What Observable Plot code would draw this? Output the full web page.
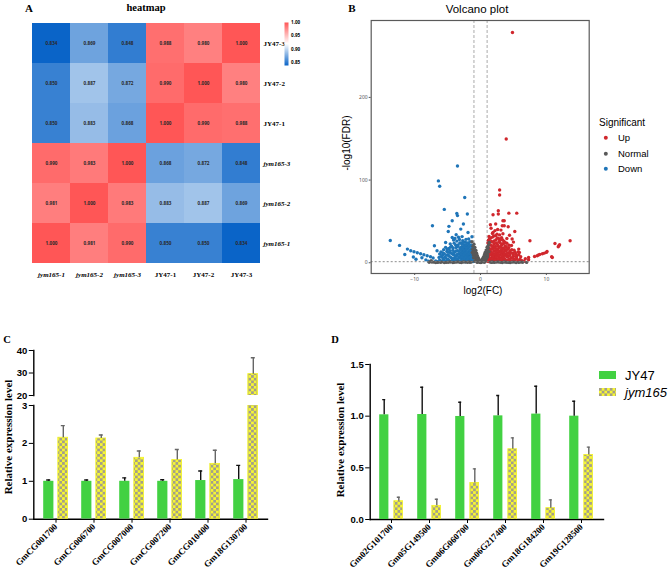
<!DOCTYPE html>
<html><head><meta charset="utf-8">
<script src="https://cdn.jsdelivr.net/npm/d3@7"></script>
<script src="https://cdn.jsdelivr.net/npm/@observablehq/plot@0.6"></script>
<style>
body{margin:0;background:#fff;}
#fig{position:relative;width:669px;height:571px;overflow:hidden;font-family:"Liberation Sans",Arial,sans-serif;color:#000;}
.pc [aria-label="y-axis tick label"]{font-family:"Liberation Sans";font-weight:bold;font-size:9.5px;}
.pc [aria-label="x-axis tick label"]{font-family:"Liberation Serif";font-weight:bold;font-size:9px;}
.pc line{stroke-width:1.4px;}
</style></head>
<body>
<svg width="0" height="0" style="position:absolute">
<defs>
<pattern id="checker" patternUnits="userSpaceOnUse" width="5.4" height="5.4">
 <rect width="5.4" height="5.4" fill="#f7f733"/>
 <rect width="2.7" height="2.7" fill="#a39f8a"/>
 <rect x="2.7" y="2.7" width="2.7" height="2.7" fill="#a39f8a"/>
</pattern>
<linearGradient id="hmgrad" x1="0" y1="0" x2="0" y2="1">
 <stop offset="0" stop-color="#ff5656"/>
 <stop offset="0.494" stop-color="#ffffff"/>
 <stop offset="1" stop-color="#0a64c8"/>
</linearGradient>
</defs></svg>
<div id="fig"></div>
<script>
// ---------- Panel A: heatmap ----------
const hmCols = ["jym165-1","jym165-2","jym165-3","JY47-1","JY47-2","JY47-3"];
const hmRows = ["JY47-3","JY47-2","JY47-1","jym165-3","jym165-2","jym165-1"];
const hmValues = [
 [0.834,0.869,0.848,0.988,0.980,1.000],
 [0.850,0.887,0.872,0.990,1.000,0.980],
 [0.850,0.883,0.868,1.000,0.990,0.988],
 [0.990,0.983,1.000,0.868,0.872,0.848],
 [0.981,1.000,0.983,0.883,0.887,0.869],
 [1.000,0.981,0.990,0.850,0.850,0.834]];
const hmLegendTicks = [0.85,0.90,0.95,1.00];

// ---------- Panel B: volcano ----------
const fcCut = [-1, 1];
const fdrCut = [1.3];
const downPts = [[-3.5,117],[-6.4,99],[-6.2,92.5],[-2.4,79],[-5.5,64.5],[-3.6,59.6],[-3.5,57],[-2.0,59],[-7.3,44.7],[-4.8,44],[-4.3,50.8],[-13.7,27],[-12.3,21],[-11.1,16.5],[-11.5,10],[-10.2,6.9],[-10.6,14.5],[-10.1,13.3],[-9.6,12.1],[-9.1,10.9],[-8.6,9.7],[-8.1,8.5],[-7.6,7.3],[-7.2,5.7],[-7.0,20.6],[-6.6,14.5],[-6.2,10.5],[-5.3,24.5],[-4.9,37.8],[-4.3,30.6],[-3.7,33.9],[-3.0,40.7],[-2.6,46.8],[-1.9,36.6],[-1.8,28.7],[-1.3,31.4],[-9.8,4.2],[-8.9,6.1],[-8.3,3.5],[-5.8,8.9],[-5.6,3.1],[-6.8,2.2],[-7.9,2.0],
[-5.9,1.8],[-5.7,5.2],[-5.5,10.8],[-5.4,7.1],[-5.2,2.6],[-5.1,13.9],[-5.0,4.4],[-4.9,9.3],[-4.8,17.2],[-4.7,1.9],[-4.6,12.4],[-4.5,6.3],[-4.4,20.1],[-4.3,3.2],[-4.2,15.0],[-4.1,9.8],[-4.0,23.7],[-3.95,5.6],[-3.9,12.9],[-3.8,2.4],[-3.7,18.4],[-3.65,8.1],[-3.6,26.2],[-3.5,14.7],[-3.45,3.9],[-3.4,21.5],[-3.3,10.6],[-3.25,6.8],[-3.2,28.1],[-3.1,16.9],[-3.05,2.1],[-3.0,12.2],[-2.95,24.0],[-2.9,8.7],[-2.85,19.3],[-2.8,4.6],[-2.75,14.1],[-2.7,26.8],[-2.65,10.3],[-2.6,1.7],[-2.55,21.9],[-2.5,6.4],[-2.45,17.6],[-2.4,12.8],[-2.35,3.3],[-2.3,24.9],[-2.25,9.2],[-2.2,15.5],[-2.15,5.1],[-2.1,20.3],[-2.05,11.4],[-2.0,2.8],[-1.95,17.9],[-1.9,7.6],[-1.85,23.2],[-1.8,13.6],[-1.75,4.0],[-1.7,19.8],[-1.65,9.9],[-1.6,2.3],[-1.55,15.7],[-1.5,6.9],[-1.45,21.4],[-1.4,11.8],[-1.35,3.6],[-1.3,17.1],[-1.25,8.3],[-1.2,13.0],[-1.15,5.4],[-1.1,19.0],[-1.05,2.0],[-3.35,30.9],[-2.8,31.6],[-4.1,27.5],[-5.3,18.6],[-6.0,13.2],[-6.3,6.5],[-4.6,22.8],[-3.9,29.4],[-2.2,28.3],[-1.6,25.6],
[-6.5,1.2],[-6.2,3.4],[-5.95,7.6],[-5.75,11.9],[-5.6,15.7],[-5.45,1.1],[-5.3,5.9],[-5.15,9.2],[-5.05,16.4],[-4.95,12.7],[-4.85,3.5],[-4.75,7.8],[-4.65,14.6],[-4.55,18.9],[-4.45,1.4],[-4.35,10.9],[-4.25,5.1],[-4.15,17.8],[-4.05,12.2],[-3.98,2.9],[-3.88,8.6],[-3.78,21.6],[-3.72,14.3],[-3.62,4.8],[-3.55,10.1],[-3.48,19.6],[-3.38,1.6],[-3.32,13.8],[-3.22,7.4],[-3.15,23.9],[-3.08,18.2],[-3.02,5.3],[-2.97,15.4],[-2.92,10.8],[-2.87,1.3],[-2.82,22.7],[-2.77,6.9],[-2.72,17.3],[-2.68,12.4],[-2.62,3.7],[-2.58,25.1],[-2.52,9.6],[-2.48,14.9],[-2.42,19.7],[-2.38,5.8],[-2.32,1.2],[-2.28,11.7],[-2.22,21.8],[-2.18,7.3],[-2.12,16.6],[-2.08,3.1],[-2.02,13.2],[-1.98,24.0],[-1.92,9.5],[-1.88,4.7],[-1.82,18.7],[-1.78,11.1],[-1.72,1.5],[-1.68,15.2],[-1.62,6.6],[-1.58,21.0],[-1.52,12.3],[-1.48,3.0],[-1.42,17.0],[-1.38,8.0],[-1.32,14.2],[-1.28,4.9],[-1.22,20.4],[-1.18,10.0],[-1.12,1.6],[-1.08,15.8],[-1.03,7.1]];
const upPts = [[4.85,278.5],[3.9,149.6],[2.9,88],[2.9,82],[1.9,58],[2.7,63],[2.7,59],[4.3,60],[5.5,60],[1.5,46],[2.3,46.8],[3.4,50.8],[3.6,50.8],[3.3,44.7],[3.6,44.7],[4.2,43.5],[5.2,37.8],[1.9,36.6],[4.8,28.7],[5.0,25],[7.5,26.6],[5.8,16.5],[5.9,12.5],[7.3,6.4],[7.3,3.6],[6.3,2.4],[8.6,8.5],[8.8,9.3],[9.0,10.1],[9.4,10.9],[9.7,11.7],[10.0,12.5],[10.1,13.7],[10.9,6.4],[11.3,23.3],[11.9,20.6],[12.0,21.8],[13.6,26.6],[11.8,19.3],[10.8,7.3],[8.2,7.6],[6.8,4.9],[5.5,8.1],[6.6,1.9],[4.4,33.2],[3.1,39.5],
[1.05,2.1],[1.1,18.6],[1.15,7.9],[1.2,27.3],[1.25,12.5],[1.3,3.8],[1.35,22.1],[1.4,9.6],[1.45,16.0],[1.5,5.2],[1.55,29.8],[1.6,13.4],[1.65,2.5],[1.7,20.7],[1.75,8.4],[1.8,25.1],[1.85,11.0],[1.9,4.3],[1.95,17.5],[2.0,32.4],[2.05,6.7],[2.1,23.0],[2.15,14.2],[2.2,1.9],[2.25,19.6],[2.3,9.1],[2.35,27.9],[2.4,4.8],[2.45,15.3],[2.5,34.6],[2.55,11.7],[2.6,21.8],[2.65,2.9],[2.7,17.0],[2.75,7.3],[2.8,29.2],[2.85,12.9],[2.9,5.7],[2.95,24.4],[3.0,9.8],[3.05,19.1],[3.1,2.2],[3.15,14.8],[3.2,30.3],[3.25,6.1],[3.3,22.6],[3.35,11.2],[3.4,3.4],[3.45,17.8],[3.5,8.6],[3.55,26.0],[3.6,13.7],[3.7,4.7],[3.75,20.2],[3.8,9.4],[3.9,15.9],[3.95,2.6],[4.0,23.5],[4.1,7.0],[4.2,12.1],[4.3,18.3],[4.35,3.9],[4.45,9.9],[4.5,14.6],[4.6,5.5],[4.7,20.9],[4.8,2.3],[4.9,11.5],[5.0,7.5],[5.1,15.2],[5.2,3.6],[5.35,10.2],[5.5,5.0],[5.7,13.0],[5.9,2.9],[6.1,7.2],[1.3,31.9],[1.8,35.5],[2.2,38.9],[2.6,40.3],[3.4,35.0],[4.0,29.3],[1.6,41.8],[2.9,33.7],
[1.02,5.5],[1.08,13.9],[1.12,24.0],[1.18,1.4],[1.22,9.7],[1.28,17.9],[1.32,6.3],[1.38,29.4],[1.42,13.1],[1.48,21.6],[1.52,2.2],[1.58,10.3],[1.62,25.7],[1.68,16.9],[1.72,5.1],[1.78,12.0],[1.82,31.0],[1.88,19.9],[1.92,8.1],[1.98,1.5],[2.02,14.7],[2.08,26.4],[2.12,10.5],[2.18,4.0],[2.22,18.0],[2.28,32.6],[2.32,13.3],[2.38,7.0],[2.42,23.9],[2.48,1.6],[2.52,16.3],[2.58,29.9],[2.62,9.9],[2.68,20.3],[2.72,4.2],[2.78,14.0],[2.82,25.8],[2.88,8.9],[2.92,18.6],[2.98,1.9],[3.02,27.6],[3.08,12.2],[3.12,5.0],[3.18,21.1],[3.22,16.1],[3.28,8.2],[3.32,28.0],[3.38,1.7],[3.42,13.0],[3.48,23.1],[3.52,5.9],[3.58,17.1],[3.65,10.7],[3.72,24.7],[3.78,2.7],[3.85,14.2],[3.92,19.0],[3.98,7.9],[4.05,11.1],[4.15,16.4],[4.25,3.3],[4.32,21.3],[4.4,8.4],[4.55,12.3],[4.65,1.9],[4.75,15.7],[4.85,6.5],[4.95,9.3],[5.05,3.9],[5.25,12.6],[5.45,7.0],[5.65,2.3],[5.8,9.8],[6.0,4.2],[6.25,1.4]];
const normalPts = [[-1.2,16.2],[-1.1,9.4],[-1.0,22.5],[-0.95,13.1],[-0.9,5.6],[-0.85,18.4],[-0.8,10.7],[-0.75,2.7],[-0.7,14.9],[-0.65,7.5],[-0.6,11.6],[-0.55,3.9],[-0.5,8.8],[-0.45,5.3],[-0.4,1.6],[-0.35,6.2],[-0.3,3.0],[-0.25,4.4],[-0.2,1.2],[-0.15,2.5],[-0.1,0.6],[0,1.4],[0.05,0.3],[0.1,2.1],[0.15,0.9],[0.2,3.3],[0.25,1.7],[0.3,4.6],[0.35,2.4],[0.4,6.1],[0.45,1.0],[0.5,7.7],[0.55,3.6],[0.6,9.9],[0.65,5.2],[0.7,12.4],[0.75,2.3],[0.8,8.1],[0.85,15.3],[0.9,4.8],[0.95,11.0],[1.0,18.7],[1.05,7.0],[1.1,14.0],[1.2,21.2],[-1.3,25.4],[1.3,24.6],[-1.4,0.8],[-2.0,0.5],[-2.6,0.9],[-3.1,0.4],[-3.7,0.7],[-4.2,0.3],[-4.9,0.6],[-5.5,0.2],[-6.1,0.5],[-7.4,0.9],[-6.8,0.3],[1.5,0.7],[2.1,0.4],[2.7,0.9],[3.3,0.3],[3.9,0.6],[4.5,0.2],[5.1,0.8],[5.8,0.4],[6.4,0.6],[-0.5,0.4],[0.6,0.5],[-1.8,1.0],[1.8,1.1],[-7.5,2.4],
[-1.25,12.4],[-1.15,20.1],[-1.05,6.2],[-1.0,14.4],[-0.92,9.6],[-0.88,1.7],[-0.82,13.7],[-0.78,6.4],[-0.72,10.1],[-0.62,4.7],[-0.58,8.3],[-0.48,2.6],[-0.42,4.1],[-0.32,1.9],[-0.22,2.9],[-0.12,1.1],[-0.05,0.4],[0.08,0.9],[0.18,1.6],[0.28,2.7],[0.38,3.8],[0.48,4.5],[0.58,6.7],[0.68,8.9],[0.78,5.7],[0.88,10.6],[0.98,13.9],[1.08,9.8],[1.15,17.5],[1.25,13.3],[-1.6,0.5],[-2.3,0.8],[-2.9,0.3],[-3.4,1.0],[-4.0,0.5],[-4.6,0.9],[-5.2,0.4],[-5.9,0.8],[-6.5,0.4],[-7.1,0.7],[1.7,0.4],[2.4,0.8],[3.0,0.5],[3.6,0.9],[4.2,0.4],[4.8,0.7],[5.4,0.3],[6.1,0.8],[7.0,0.4],[-7.8,0.6]];
const volcanoXTicks = [-10, 0, 10];
const volcanoYTicks = [0, 100, 200];
const sigLevels = ["Up", "Normal", "Down"];
const sigColors = ["#d0272d", "#595959", "#1f75b8"];

// ---------- Panel C ----------
const genesC = ["GmCG001700","GmCG006700","GmCG007000","GmCG007200","GmCG010400","Gm18G130700"];
const jyC = [1.00, 1.00, 1.00, 1.00, 1.02, 1.045];
const jyErrC = [1.035, 1.035, 1.09, 1.04, 1.27, 1.42];
const jymC = [2.15, 2.13, 1.62, 1.56, 1.46, 29.5];
const jymErrC = [2.47, 2.22, 1.80, 1.84, 1.82, 36.8];

// ---------- Panel D ----------
const genesD = ["Gm02G101700","Gm05G149500","Gm06G060700","Gm06G217400","Gm18G184200","Gm19G128500"];
const jyD = [1.013, 1.016, 0.997, 1.003, 1.02, 1.0];
const jyErrD = [1.16, 1.28, 1.135, 1.20, 1.29, 1.145];
const jymD = [0.177, 0.132, 0.354, 0.68, 0.11, 0.624];
const jymErrD = [0.215, 0.196, 0.49, 0.79, 0.19, 0.70];
const seriesNames = ["JY47", "jym165"];

const GREEN = "#42d142";
const CHECK = "url(#checker)";
const fig = document.getElementById("fig");

function place(node, left, top, cls) {
  node.style.position = "absolute";
  node.style.left = left + "px";
  node.style.top = top + "px";
  if (cls) node.classList.add(cls);
  fig.appendChild(node);
}
function label(txt, x, y, css, opts = {}) {
  const d = document.createElement("div");
  d.textContent = txt;
  const tx = opts.anchor === "start" ? "0" : "-50%";
  d.style.cssText = `position:absolute;left:${x}px;top:${y}px;white-space:nowrap;line-height:1;transform:translate(${tx},-50%)${opts.rotate ? ` rotate(${opts.rotate}deg)` : ""};` + css;
  fig.appendChild(d);
}

// ===== Panel A =====
const hmData = [];
hmRows.forEach((r, i) => hmCols.forEach((c, j) => hmData.push({row: r, col: c, value: hmValues[i][j]})));
const isJym = s => s.startsWith("jym");
const hm = Plot.plot({
  width: 330, height: 290, marginLeft: 31, marginRight: 70, marginTop: 22, marginBottom: 27,
  style: {background: "transparent", overflow: "visible"},
  x: {domain: hmCols, padding: 0, axis: null},
  y: {domain: hmRows, padding: 0, axis: null},
  color: {type: "linear", domain: [0.834, 0.92, 1.0], range: ["#0a64c8", "#ffffff", "#ff5656"]},
  marks: [
    Plot.cell(hmData, {x: "col", y: "row", fill: "value", inset: 0}),
    Plot.text(hmData, {x: "col", y: "row", text: d => d.value.toFixed(3), fontSize: 4.6, fontWeight: "bold", fill: "#2a2a2a"}),
    Plot.axisY(hmRows.filter(s => !isJym(s)), {anchor: "right", tickSize: 0, tickPadding: 3, fontSize: 7, fontWeight: "bold", fontFamily: "Liberation Serif", label: null}),
    Plot.axisY(hmRows.filter(isJym), {anchor: "right", tickSize: 0, tickPadding: 3, fontSize: 7, fontWeight: "bold", fontStyle: "italic", fontFamily: "Liberation Serif", label: null}),
    Plot.axisX(hmCols.filter(isJym), {anchor: "bottom", tickSize: 0, tickPadding: 8.5, fontSize: 7, fontWeight: "bold", fontStyle: "italic", fontFamily: "Liberation Serif", label: null}),
    Plot.axisX(hmCols.filter(s => !isJym(s)), {anchor: "bottom", tickSize: 0, tickPadding: 8.5, fontSize: 7, fontWeight: "bold", fontFamily: "Liberation Serif", label: null})
  ]
});
place(hm, 0, 0);

const hmLeg = Plot.plot({
  width: 40, height: 70, marginLeft: 4, marginRight: 32, marginTop: 22, marginBottom: 5,
  style: {background: "transparent", overflow: "visible"},
  y: {domain: [0.838, 1.0], axis: null},
  marks: [
    Plot.frame({fill: "url(#hmgrad)", stroke: "none"}),
    Plot.axisY(hmLegendTicks, {anchor: "right", tickSize: 0, tickPadding: 2.5, fontSize: 4.6, fontWeight: "bold", tickFormat: ".2f", label: null})
  ]
});
place(hmLeg, 280, 0);

label("A", 29, 8, 'font-family:"Liberation Serif";font-weight:bold;font-size:11px;');
label("heatmap", 146, 8, 'font-family:"Liberation Serif";font-weight:bold;font-size:10.5px;');

// ===== Panel B =====
const dotOpts = (c) => ({x: d => d[0], y: d => d[1], r: 1.7, fill: c});
const volcano = Plot.plot({
  width: 270, height: 300, marginLeft: 40.7, marginRight: 11.3, marginTop: 20, marginBottom: 27,
  style: {background: "transparent", overflow: "visible"},
  x: {domain: [-16.6, 16.5], axis: null},
  y: {domain: [-13, 293], axis: null},
  marks: [
    Plot.ruleX(fcCut, {stroke: "#a0a0a0", strokeDasharray: "3,2", strokeWidth: 0.9}),
    Plot.dot(downPts, dotOpts(sigColors[2])),
    Plot.dot(upPts, dotOpts(sigColors[0])),
    Plot.dot(normalPts, dotOpts(sigColors[1])),
    Plot.ruleY(fdrCut, {stroke: "#808080", strokeDasharray: "2,2", strokeWidth: 0.9}),
    Plot.frame({stroke: "#5a5a5a", strokeWidth: 1.2}),
    Plot.axisX(volcanoXTicks, {anchor: "bottom", tickSize: 2, tickPadding: 2, fontSize: 5, color: "#555", label: null}),
    Plot.axisY(volcanoYTicks, {anchor: "left", tickSize: 2, tickPadding: 1.5, fontSize: 5, color: "#555", label: null})
  ]
});
place(volcano, 330, 0);

label("B", 352, 8, 'font-family:"Liberation Serif";font-weight:bold;font-size:11px;');
label("Volcano plot", 477, 10, "font-size:11.5px;");
label("-log10(FDR)", 347, 143, "font-size:10px;", {rotate: -90});
label("log2(FC)", 483, 291, "font-size:10px;");
label("Significant", 599, 123, "font-size:10px;", {anchor: "start"});
const legY = [138, 154, 169];
sigLevels.forEach((s, i) => {
  const dot = document.createElement("div");
  dot.style.cssText = `width:4.4px;height:4.4px;border-radius:50%;background:${sigColors[i]};transform:translate(-50%,-50%);`;
  place(dot, 606, legY[i]);
  label(s, 618, legY[i], "font-size:9.5px;", {anchor: "start"});
});

// ===== Bar helpers =====
function barMarks(genes, jy, jyErr, jym, jymErr) {
  const data = genes.map((g, i) => ({gene: g, jy: jy[i], jyHi: jyErr[i], jym: jym[i], jymHi: jymErr[i]}));
  return [
    Plot.barY(data, {x: "gene", y1: 0, y2: "jy", fill: GREEN, insetLeft: 0.2, insetRight: 14.6, clip: true}),
    Plot.barY(data, {x: "gene", y1: 0, y2: "jym", fill: CHECK, stroke: "#f4f428", strokeWidth: 0.8, insetLeft: 14.8, insetRight: 0.4, clip: true}),
    Plot.ruleX(data, {x: "gene", y1: "jy", y2: "jyHi", dx: -7.3, stroke: "#111", strokeWidth: 1.1, clip: true}),
    Plot.tickY(data, {x: "gene", y: "jyHi", insetLeft: 3.2, insetRight: 17.8, stroke: "#111", strokeWidth: 1.1, clip: true}),
    Plot.ruleX(data, {x: "gene", y1: "jym", y2: "jymHi", dx: 7.3, stroke: "#666", strokeWidth: 1.1, clip: true}),
    Plot.tickY(data, {x: "gene", y: "jymHi", insetLeft: 17.8, insetRight: 3.2, stroke: "#666", strokeWidth: 1.1, clip: true})
  ];
}

// ===== Panel C =====
const cUpper = Plot.plot({
  width: 290, height: 60, marginLeft: 33.3, marginRight: 23, marginTop: 10, marginBottom: 5,
  style: {background: "transparent", overflow: "visible"},
  x: {domain: genesC, paddingInner: 0.354, paddingOuter: 0.2, axis: null},
  y: {domain: [20, 40], ticks: 2, tickSize: 4.5, tickPadding: 2, line: true, label: null},
  marks: barMarks(genesC, jyC, jyErrC, jymC, jymErrC)
});
place(cUpper, 0, 340, "pc");

const cLower = Plot.plot({
  width: 290, height: 171, marginLeft: 33.3, marginRight: 23, marginTop: 5, marginBottom: 52.3,
  style: {background: "transparent", overflow: "visible"},
  x: {domain: genesC, paddingInner: 0.354, paddingOuter: 0.2, tickRotate: -45, tickSize: 4, tickPadding: 2, line: true, label: null},
  y: {domain: [0, 3], ticks: 3, tickSize: 4.5, tickPadding: 2, line: true, label: null},
  marks: barMarks(genesC, jyC, jyErrC, jymC, jymErrC)
});
place(cLower, 0, 400, "pc");

label("C", 7, 340, 'font-family:"Liberation Serif";font-weight:bold;font-size:10.5px;');
label("Relative expression level", 8, 437, 'font-family:"Liberation Serif";font-weight:bold;font-size:11px;', {rotate: -90});

// ===== Panel D =====
const dPlot = Plot.plot({
  width: 290, height: 231, marginLeft: 39.7, marginRight: 17, marginTop: 24, marginBottom: 52,
  style: {background: "transparent", overflow: "visible"},
  x: {domain: genesD, paddingInner: 0.357, paddingOuter: 0.18, tickRotate: -45, tickSize: 4, tickPadding: 2, line: true, label: null},
  y: {domain: [0, 1.5], ticks: 3, tickFormat: ".1f", tickSize: 4.5, tickPadding: 2, line: true, label: null},
  marks: barMarks(genesD, jyD, jyErrD, jymD, jymErrD)
});
place(dPlot, 330, 340, "pc");

label("D", 335, 340, 'font-family:"Liberation Serif";font-weight:bold;font-size:10.5px;');
label("Relative expression level", 340, 440, 'font-family:"Liberation Serif";font-weight:bold;font-size:11px;', {rotate: -90});

// legend D
const sw1 = document.createElement("div");
sw1.style.cssText = `width:17px;height:8px;background:${GREEN};`;
place(sw1, 599, 371);
const sw2 = document.createElementNS("http://www.w3.org/2000/svg", "svg");
sw2.setAttribute("width", 17); sw2.setAttribute("height", 8);
sw2.innerHTML = `<rect width="17" height="8" fill="${CHECK}"/>`;
place(sw2, 599, 388);
label(seriesNames[0], 625, 375, "font-size:13px;", {anchor: "start"});
label(seriesNames[1], 625, 392, "font-size:13px;font-style:italic;", {anchor: "start"});
</script>
</body></html>
